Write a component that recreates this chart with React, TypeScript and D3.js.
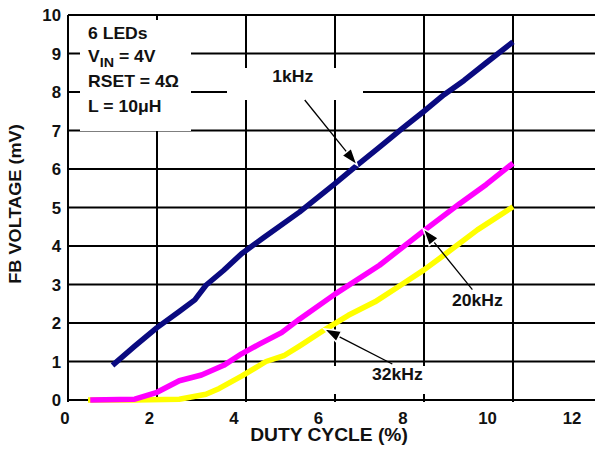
import { useRef, useEffect } from 'react'
import * as d3 from 'd3'

// duty cycle (%) vs FB voltage (mV)
const series1k = [
  [1.0, 0.9], [1.5, 1.4], [2.0, 1.88], [2.5, 2.3], [2.85, 2.6], [3.1, 2.98], [3.5, 3.37],
  [3.9, 3.8], [4.4, 4.22], [5.2, 4.88], [6.0, 5.62], [6.5, 6.1], [7.0, 6.57], [7.5, 7.04],
  [8.0, 7.5], [8.45, 7.93], [8.9, 8.3], [9.4, 8.76], [10.0, 9.3],
]
const series20k = [
  [0.5, 0], [1.5, 0.02], [2.0, 0.2], [2.5, 0.5], [3.0, 0.65], [3.5, 0.9], [3.9, 1.2],
  [4.3, 1.45], [4.8, 1.75], [5.2, 2.1], [6.0, 2.75], [7.0, 3.5], [8.0, 4.4], [8.8, 5.1],
  [9.4, 5.6], [10.0, 6.15],
]
const series32k = [
  [0.45, 0], [1.5, 0], [2.5, 0.02], [3.1, 0.15], [3.4, 0.3], [3.9, 0.62], [4.45, 1.0],
  [4.85, 1.15], [5.2, 1.4], [5.8, 1.85], [6.3, 2.2], [6.9, 2.55], [7.5, 3.0], [8.0, 3.38],
  [8.4, 3.72], [9.2, 4.42], [10.0, 5.02],
]
const seriesColors = ['#0a0a80', '#ff00ff', '#ffff00']

const xTicks = [0, 2, 4, 6, 8, 10, 12]
const yTicks = [0, 1, 2, 3, 4, 5, 6, 7, 8, 9, 10]

// annotation labels: [text, labelX, labelY, arrow tip x, arrow tip y] in data units
const callouts = [
  ['1kHz', 5.05, 8.26, 6.5, 6.1],
  ['20kHz', 9.2, 2.45, 7.98, 4.45],
  ['32kHz', 7.4, 0.52, 5.75, 1.85],
]
const conditions = ['6 LEDs', 'VIN = 4V', 'RSET = 4Ω', 'L = 10μH']

const W = 595
const H = 454
const FONT = "'Liberation Sans', Arial, Helvetica, sans-serif"

export default function App() {
  const svgRef = useRef(null)

  useEffect(() => {
    const svg = d3.select(svgRef.current)
    svg.selectAll('*').remove()

    // gridlines sit on these positions; the printed tick labels are shifted a bit
    const x = d3.scaleLinear().domain([0, 12]).range([68, 602])
    const xLabel = d3.scaleLinear().domain([0, 12]).range([65, 572])
    const y = d3.scaleLinear().domain([0, 10]).range([400, 15])

    const txt = (g, px, py, s, size = 16, anchor = 'start', rot = 0, sx = 1.1) =>
      g.append('text')
        .attr('transform', `translate(${px},${py}) rotate(${rot}) scale(${sx},1)`)
        .attr('text-anchor', anchor)
        .attr('font-family', FONT)
        .attr('font-weight', 'bold')
        .attr('font-size', size)
        .attr('fill', '#111')
        .text(s)

    svg.append('rect').attr('width', W).attr('height', H).attr('fill', '#fff')

    const grid = svg.append('g').attr('stroke', '#000').attr('stroke-width', 2)
    xTicks.forEach((t) => {
      grid.append('line').attr('x1', x(t)).attr('x2', x(t)).attr('y1', y(10)).attr('y2', y(0) + 2)
    })
    yTicks.forEach((t) => {
      grid.append('line').attr('x1', x(0)).attr('x2', x(12)).attr('y1', y(t)).attr('y2', y(t))
    })

    // white boxes behind the text
    svg.append('rect').attr('x', 80).attr('y', 20).attr('width', 111).attr('height', 111).attr('fill', '#fff')
    svg.append('rect').attr('x', 227).attr('y', 68).attr('width', 136).attr('height', 32).attr('fill', '#fff')
    svg.append('rect').attr('x', 322).attr('y', 366).attr('width', 120).attr('height', 28).attr('fill', '#fff')

    const line = d3.line().x((d) => x(d[0])).y((d) => y(d[1]))
    ;[series32k, series20k, series1k].forEach((s, i) => {
      svg.append('path')
        .attr('d', line(s))
        .attr('fill', 'none')
        .attr('stroke', seriesColors[2 - i])
        .attr('stroke-width', 5.5)
        .attr('stroke-linejoin', 'round')
    })

    // callouts with arrows
    callouts.forEach(([label, lx, ly, tx, ty]) => {
      txt(svg, x(lx), y(ly), label, 16, 'middle')
      const x0 = x(lx) + (label === '1kHz' ? 12 : -5)
      const y0 = y(ly) + (label === '1kHz' ? 18 : -16)
      const x1 = x(tx)
      const y1 = y(ty)
      const a = Math.atan2(y1 - y0, x1 - x0)
      const len = 17
      const hw = 6
      const bx = x1 - len * Math.cos(a)
      const by = y1 - len * Math.sin(a)
      svg.append('line').attr('x1', x0).attr('y1', y0).attr('x2', bx).attr('y2', by)
        .attr('stroke', '#000').attr('stroke-width', 1.3)
      const pts = [
        [x1, y1],
        [bx + hw * Math.sin(a), by - hw * Math.cos(a)],
        [bx - hw * Math.sin(a), by + hw * Math.cos(a)],
      ]
      svg.append('path').attr('d', 'M' + pts.join('L') + 'Z')
        .attr('fill', '#000').attr('stroke', '#fff').attr('stroke-width', 1.5)
    })

    // test conditions
    const cy = [39, 62, 87, 112]
    conditions.forEach((c, i) => {
      if (c.startsWith('VIN')) {
        const t = txt(svg, 88, cy[i], '', 16)
        t.append('tspan').text('V')
        t.append('tspan').attr('dy', 5).attr('font-size', 13).text('IN')
        t.append('tspan').attr('dy', -5).text(' = 4V')
      } else {
        txt(svg, 88, cy[i], c, 16)
      }
    })

    // tick labels
    xTicks.forEach((t) => txt(svg, xLabel(t), 424, String(t), 16.5, 'middle', 0, 1.02))
    yTicks.forEach((t) => txt(svg, 61, y(t) + 6, String(t), 16.5, 'end', 0, 1.02))

    txt(svg, 329, 441, 'DUTY CYCLE (%)', 17.5, 'middle')
    txt(svg, 21, 204, 'FB VOLTAGE (mV)', 16.5, 'middle', -90)
  }, [])

  return (
    <svg
      ref={svgRef}
      width={W}
      height={H}
      style={{ position: 'absolute', left: 0, top: 0 }}
    />
  )
}
